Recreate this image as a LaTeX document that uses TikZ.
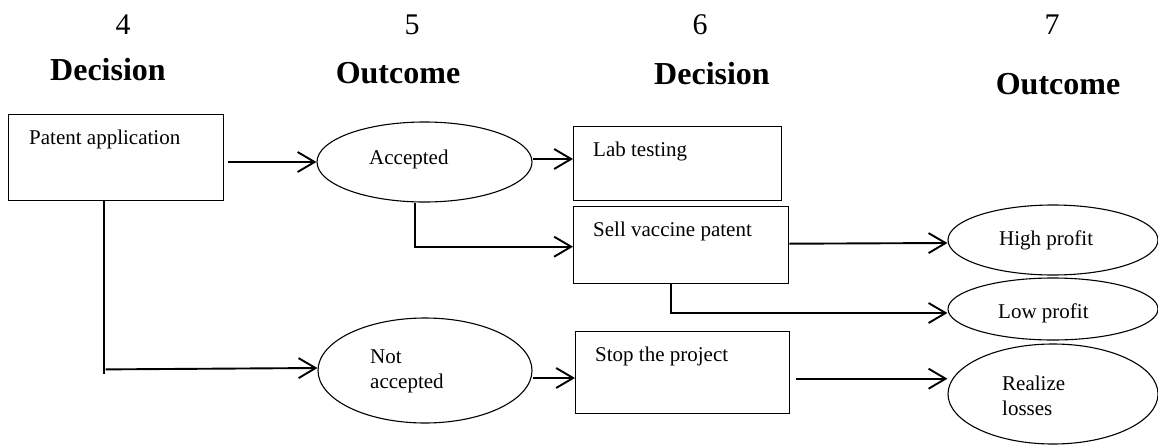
\documentclass[tikz,border=0pt]{standalone}
\usepackage{fontspec}
\setmainfont{Liberation Serif}
\usetikzlibrary{shapes.geometric,arrows.meta,calc}

\begin{document}
\begin{tikzpicture}[x=1pt,y=-1pt,
  box/.style={draw, line width=1.4pt, rectangle, inner sep=0pt, anchor=north west},
  oval/.style={draw, line width=1.1pt, ellipse, inner sep=0pt},
  txt/.style={font=\fontsize{21}{25}\selectfont, inner sep=0pt, anchor=base west},
  num/.style={font=\fontsize{30}{34}\selectfont, inner sep=0pt, anchor=base},
  head/.style={font=\fontsize{32}{36}\selectfont\bfseries, inner sep=0pt, anchor=base},
  link/.style={line width=1.9pt},
  arr/.style={link, -{Straight Barb[length=17pt,width=20pt]}}]

\useasboundingbox (0,0) rectangle (1158,444);

% column headings
\node[num]  (n4) at (123,35) {4};
\node[head] (h4) at (108,80) {Decision};
\node[num]  (n5) at (412,35) {5};
\node[head] (h5) at (398,83) {Outcome};
\node[num]  (n6) at (700,35) {6};
\node[head] (h6) at (712,84) {Decision};
\node[num]  (n7) at (1052,35) {7};
\node[head] (h7) at (1058,94) {Outcome};

% decision boxes
\node[box, minimum width=215pt, minimum height=86pt] (pa)   at (8,114) {};
\node[box, minimum width=208pt, minimum height=74pt] (lab)  at (573,126) {};
\node[box, minimum width=215pt, minimum height=77pt] (sell) at (573,206) {};
\node[box, minimum width=214pt, minimum height=82pt] (stop) at (575,331) {};

% outcome ovals
\node[oval, minimum width=215pt, minimum height=80pt]  (acc) at (424.5,162) {};
\node[oval, minimum width=214pt, minimum height=105pt] (na)  at (425,370.5) {};
\node[oval, minimum width=210pt, minimum height=70pt]  (hp)  at (1053,240) {};
\node[oval, minimum width=210pt, minimum height=62pt]  (lp)  at (1053,309) {};
\node[oval, minimum width=210pt, minimum height=100pt] (rl)  at (1053,394) {};

% labels
\node[txt] (tpa)   at (29,144)  {Patent application};
\node[txt] (tacc)  at (369,164) {Accepted};
\node[txt] (tlab)  at (593,156) {Lab testing};
\node[txt] (tsell) at (593,236) {Sell vaccine patent};
\node[txt] (tna1)  at (370,363) {Not};
\node[txt] (tna2)  at (370,388) {accepted};
\node[txt] (tstop) at (595,361) {Stop the project};
\node[txt] (thp)   at (999,245) {High profit};
\node[txt] (tlp)   at (998,318) {Low profit};
\node[txt] (trl1)  at (1002,390) {Realize};
\node[txt] (trl2)  at (1002,415) {losses};

% connectors
\draw[arr] ($(pa.east |- acc.west)+(4,0)$) -- (acc.west);
\draw[arr] ([yshift=3pt]acc.east) -- ([yshift=3pt]acc.east -| lab.west);
\draw[arr] ([xshift=-9.5pt]acc.south) |- ($(sell.west)+(0,1.5)$);
\draw[arr] ($(sell.east)+(0,-1.5)$) -- ($(hp.west)+(0,3)$);
\draw[arr] ($(sell.south)+(-10.5,0)$) |- ($(lp.west)+(0,4)$);
\draw[link] ($(pa.south)+(-12.5,0)$) -- ++(0,173);
\draw[arr] ($(pa.south)+(-10.5,168)$) -- ($(na.west)+(0,-2.5)$);
\draw[arr] ([yshift=-7.5pt]na.east) -- ([yshift=-7.5pt]na.east -| stop.west);
\draw[arr] ([xshift=6pt,yshift=-6pt]stop.east) -- ([yshift=-6pt]stop.east -| rl.west);

\end{tikzpicture}
\end{document}
